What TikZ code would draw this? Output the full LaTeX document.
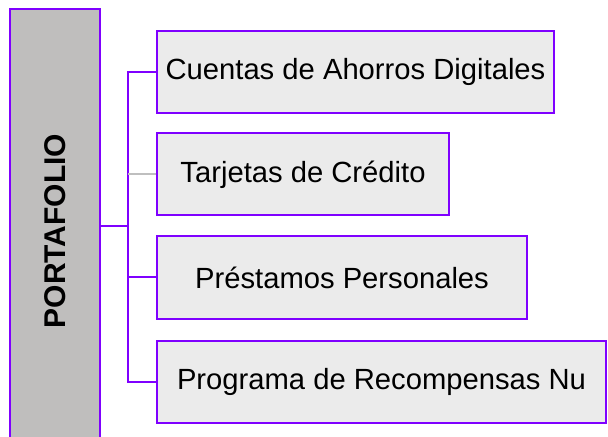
\documentclass[tikz,border=0pt]{standalone}
\usepackage{fontspec}
\setmainfont{Liberation Sans}
\usetikzlibrary{positioning}
\usetikzlibrary{calc}
\definecolor{violeta}{HTML}{7F00FF}
\definecolor{grisclaro}{HTML}{EBEBEB}
\definecolor{grisraiz}{HTML}{BFBEBD}
\definecolor{grislinea}{HTML}{BFBFBF}
\tikzstyle{rama} = [rectangle,fill=grisclaro,draw=violeta,line width=1pt,minimum height=41pt,inner sep=0pt,font=\fontsize{14.6}{17}\selectfont]
\tikzstyle{raiz} = [rectangle,fill=grisraiz,draw=violeta,line width=1pt,inner sep=0pt,font=\fontsize{15}{18}\selectfont\bfseries]
\tikzstyle{conector} = [draw=violeta,line width=1pt]

\begin{document}
\begin{tikzpicture}
  \useasboundingbox (0,0) rectangle (304pt,-218.5pt);
  \clip (0,0) rectangle (304pt,-218.5pt);
  \node [raiz,minimum width=45pt,minimum height=222pt] (port) at (27.5pt,-115.5pt) {\rotatebox{90}{PORTAFOLIO}};

  \node [rama,anchor=north west,minimum width=198.5pt] (c1) at (78pt,-15pt) {Cuentas de Ahorros Digitales};
  \node [rama,below=9.25pt of c1.south west,anchor=north west,minimum width=146pt] (c2) {Tarjetas de Crédito};
  \node [rama,below=9.5pt of c2.south west,anchor=north west,minimum width=185pt] (c3) {Préstamos Personales};
  \node [rama,below=10pt of c3.south west,anchor=north west,minimum width=224.5pt] (c4) {Programa de Recompensas Nu};

  \coordinate (t) at (64pt,0);
  \coordinate (union) at ($(c2.west)!0.5!(c3.west)$);
  \draw [conector] (c1.west) -- (c1.west -| t) -- (c4.west -| t) -- (c4.west);
  \draw [conector] (c3.west) -- (c3.west -| t);
  \draw [draw=grislinea,line width=1pt] (c2.west) -- (c2.west -| t);
  \draw [conector] (union -| port.east) -- (union -| t);
\end{tikzpicture}
\end{document}
